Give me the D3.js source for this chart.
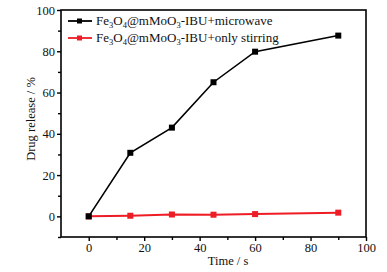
<!DOCTYPE html>
<html>
<head>
<meta charset="utf-8">
<script src="https://cdn.jsdelivr.net/npm/d3@7"></script>
<style>
  body { margin: 0; background: #fff; }
  text { font-family: "Liberation Serif", "Times New Roman", serif; fill: #111; }
</style>
</head>
<body>
<svg id="chart" width="387" height="272"></svg>
<script>
// data
let times = [0, 15, 30, 45, 60, 90];
let microwave = [0, 30.8, 43, 65, 79.8, 87.6];
let stirring = [0, 0.3, 0.9, 0.8, 1.1, 1.8];
let xTicks = [0, 20, 40, 60, 80, 100];
let yTicks = [0, 20, 40, 60, 80, 100];
let seriesNames = ["microwave", "only stirring"];
let seriesColors = ["#000000", "#ee1c25"];

let svg = d3.select("#chart");
let margin = {left: 61, right: 21, top: 10, bottom: 35};
let W = 387, H = 272;

let x = d3.scaleLinear().domain([-10, 100]).range([margin.left, W - margin.right]);
let y = d3.scaleLinear().domain([-10, 100]).range([H - margin.bottom, margin.top]);

// frame
svg.append("rect")
   .attr("x", x(-10)).attr("y", y(100))
   .attr("width", x(100) - x(-10)).attr("height", y(-10) - y(100))
   .attr("fill", "none").attr("stroke", "#000").attr("stroke-width", 1.6);

// x axis
let xAxis = svg.append("g").attr("transform", "translate(0," + y(-10) + ")");
xAxis.call(d3.axisBottom(x).tickValues(xTicks).tickSize(4).tickPadding(2).tickFormat(d3.format("d")));
xAxis.append("g").call(d3.axisBottom(x).tickValues([10, 30, 50, 70, 90]).tickSize(3).tickFormat(""));
xAxis.selectAll(".domain").remove();
xAxis.selectAll("line").attr("stroke-width", 1.4);
xAxis.selectAll("text").style("font-size", "12.5px").style("font-family", "Liberation Serif").attr("fill", "#111");

// y axis
let yAxis = svg.append("g").attr("transform", "translate(" + x(-10) + ",0)");
yAxis.call(d3.axisLeft(y).tickValues(yTicks).tickSize(4).tickPadding(2).tickFormat(d3.format("d")));
yAxis.append("g").call(d3.axisLeft(y).tickValues([-10, 10, 30, 50, 70, 90]).tickSize(3).tickFormat(""));
yAxis.selectAll(".domain").remove();
yAxis.selectAll("line").attr("stroke-width", 1.4);
yAxis.selectAll("text").style("font-size", "12.5px").style("font-family", "Liberation Serif").attr("fill", "#111");

// axis titles
svg.append("text")
   .attr("x", 228).attr("y", 265)
   .attr("text-anchor", "middle").style("font-size", "12.5px")
   .text("Time / s");
svg.append("text")
   .attr("transform", "translate(35,119) rotate(-90)")
   .attr("text-anchor", "middle").style("font-size", "12.5px")
   .text("Drug release / %");

// series (stirring drawn first so the black marker at origin stays on top)
let line = d3.line().x((d, i) => x(times[i])).y(d => y(d));
[[stirring, 1], [microwave, 0]].forEach(function(pair) {
  let vals = pair[0], s = pair[1];
  let col = seriesColors[s];
  svg.append("path")
     .attr("d", line(vals))
     .attr("fill", "none")
     .attr("stroke", col)
     .attr("stroke-width", s == 0 ? 1.6 : 2);
  svg.selectAll(".pt" + s)
     .data(vals)
     .enter().append("rect")
     .attr("class", "pt" + s)
     .attr("x", (d, i) => x(times[i]) - 3)
     .attr("y", d => y(d) - 3)
     .attr("width", 6).attr("height", 6)
     .attr("fill", col);
});

// legend
let legend = svg.append("g");
seriesNames.forEach(function(name, s) {
  let ly = 21 + s * 17;
  legend.append("line")
        .attr("x1", 68).attr("x2", 92).attr("y1", ly).attr("y2", ly)
        .attr("stroke", seriesColors[s]).attr("stroke-width", 1.8);
  legend.append("rect")
        .attr("x", 77).attr("y", ly - 2.5).attr("width", 5).attr("height", 5)
        .attr("fill", seriesColors[s]);
  let t = legend.append("text").attr("x", 96).attr("y", ly + 4).style("font-size", "13px");
  t.append("tspan").text("Fe");
  t.append("tspan").attr("dy", 3).style("font-size", "8.5px").text("3");
  t.append("tspan").attr("dy", -3).text("O");
  t.append("tspan").attr("dy", 3).style("font-size", "8.5px").text("4");
  t.append("tspan").attr("dy", -3).text("@mMoO");
  t.append("tspan").attr("dy", 3).style("font-size", "8.5px").text("3");
  t.append("tspan").attr("dy", -3).text("-IBU+" + name);
});
</script>
</body>
</html>
